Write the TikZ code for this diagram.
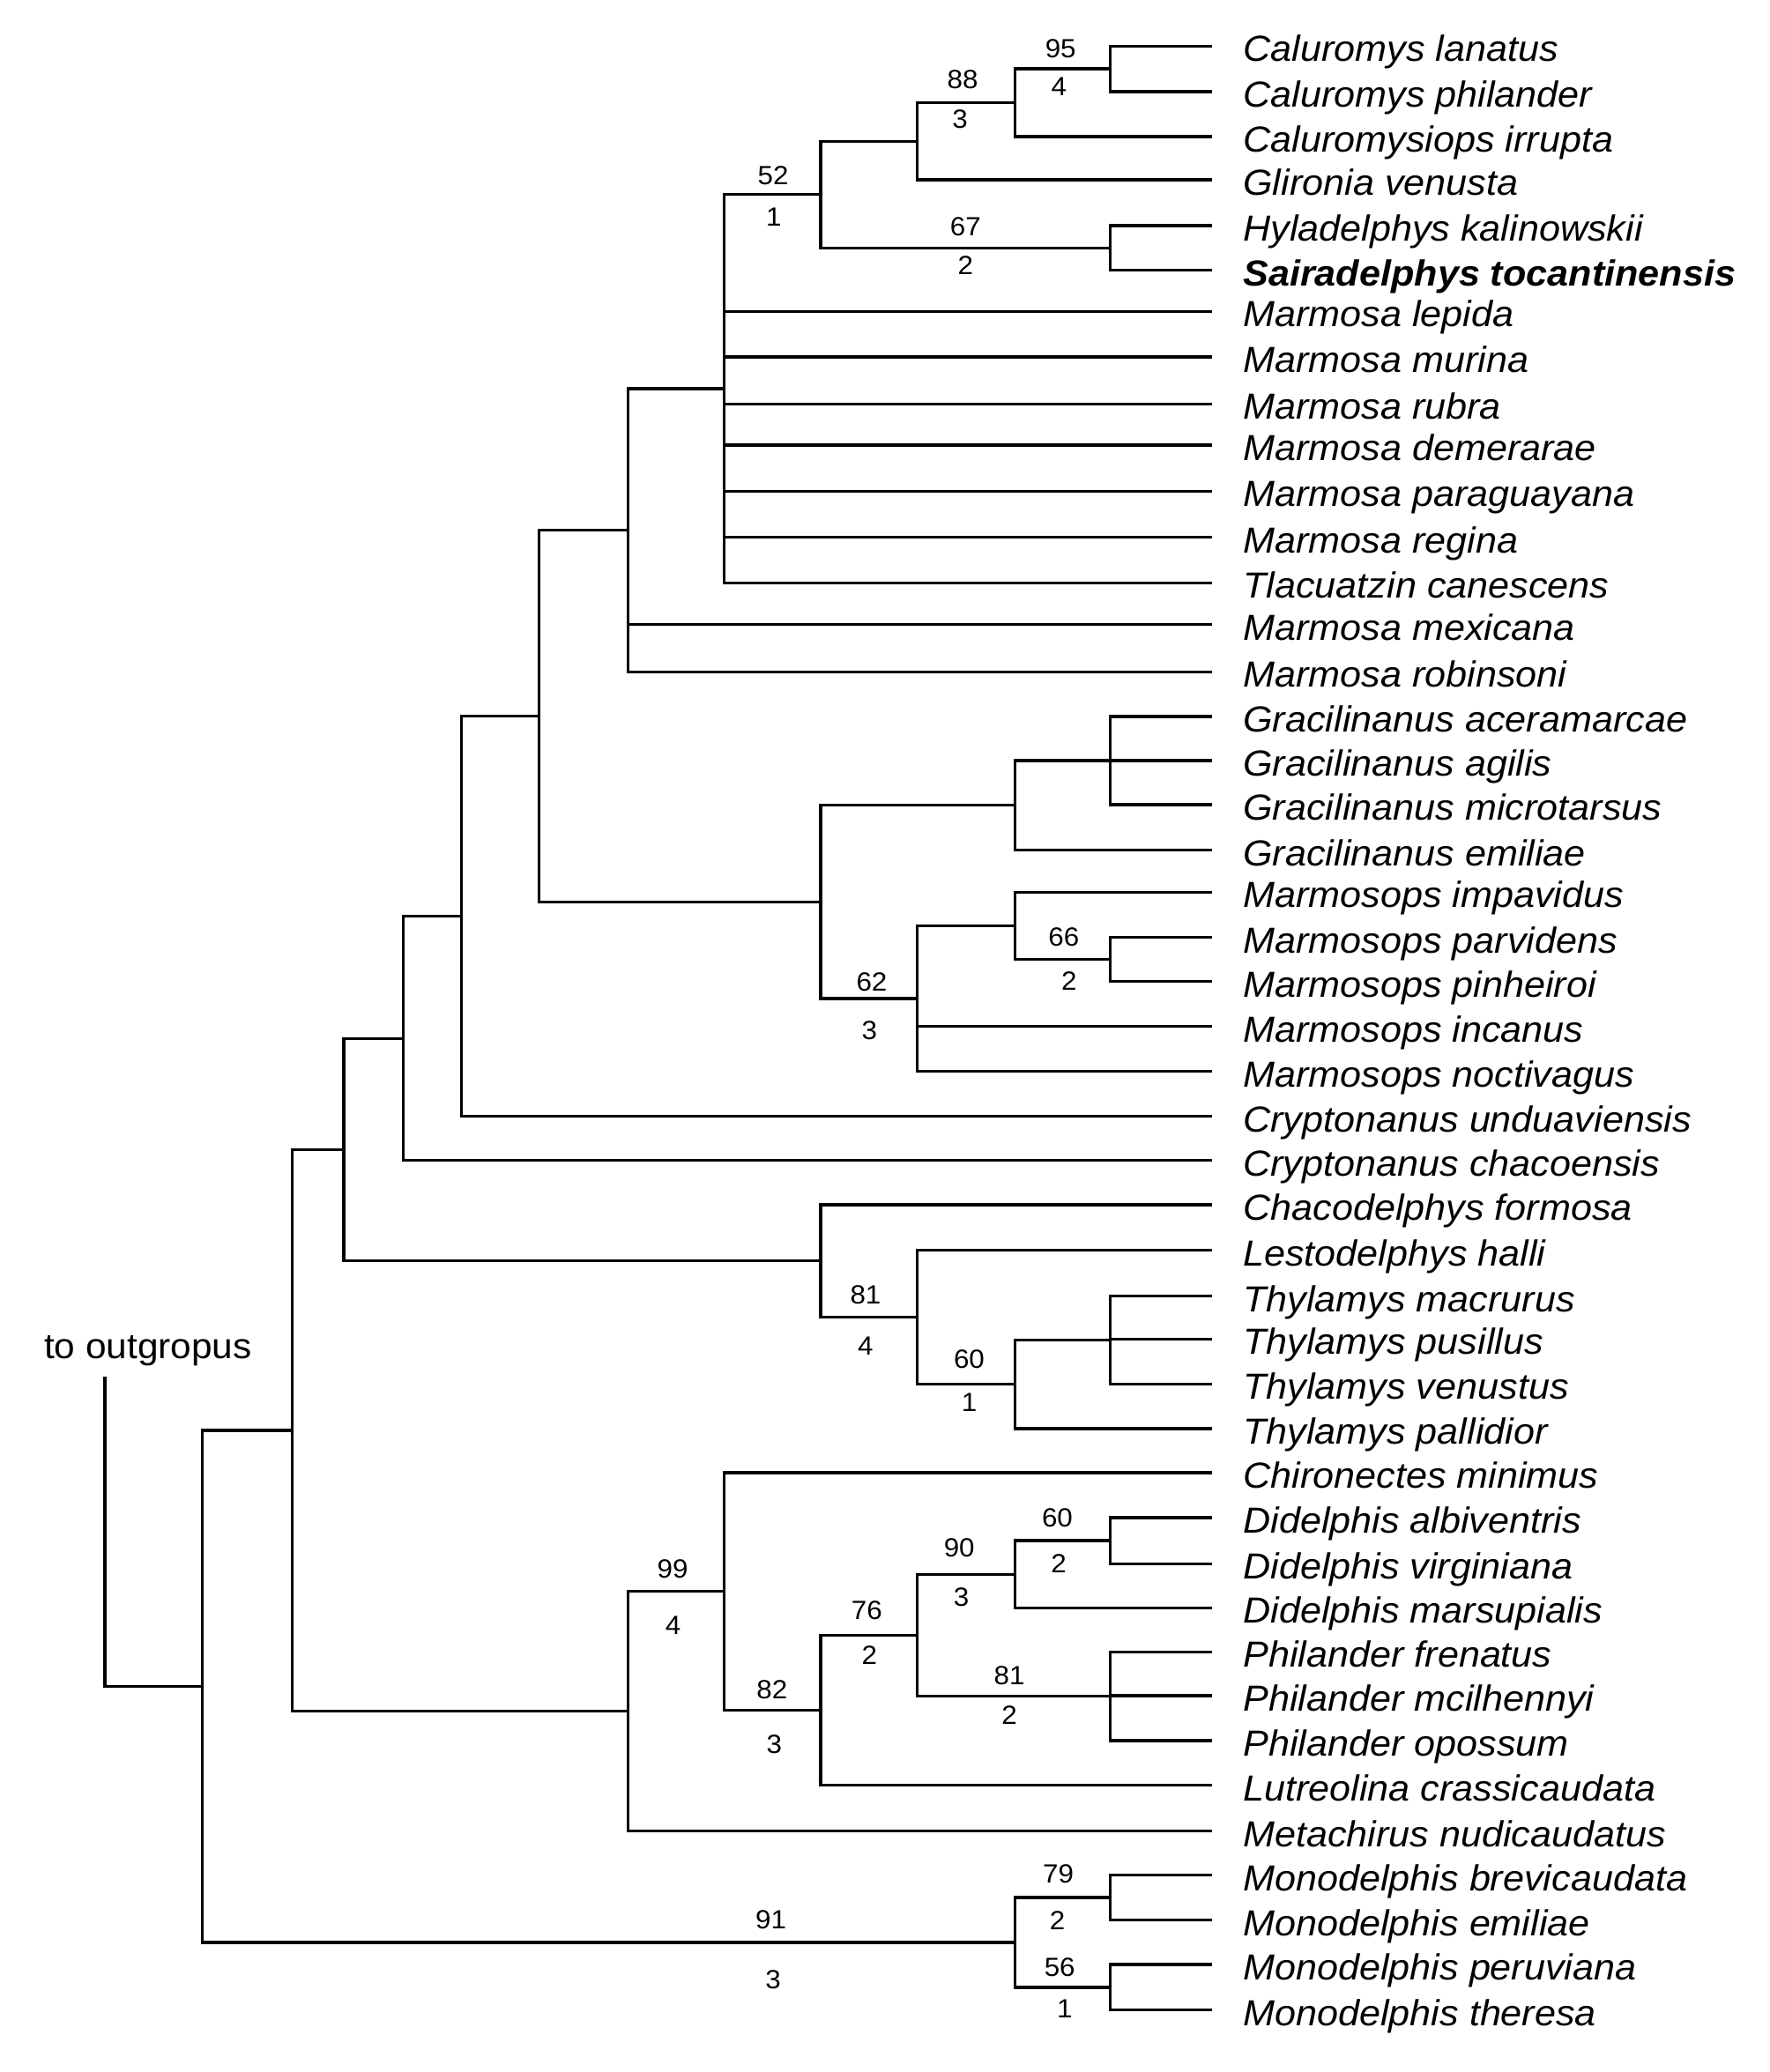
\documentclass[tikz,border=0pt]{standalone}
\usepackage{fontspec}
\setmainfont{Liberation Sans}[FakeStretch=1.05]

\begin{document}
\begin{tikzpicture}[x=0.015cm, y=-0.015cm, line width=0.95pt,
  taxon/.style={anchor=west, inner xsep=0.35cm, inner ysep=0pt, outer sep=0pt,
    text height=10pt, text depth=0pt, font=\fontsize{11.7}{14}\selectfont\itshape},
  supp/.style={inner sep=0pt, font=\fontsize{8.5}{10}\selectfont}]
  \useasboundingbox (0,0) rectangle (1339,1568);
  \foreach \nm/\y/\txt in {clan/34.9/Caluromys lanatus, cphi/69.3/Caluromys philander,
    cirr/103.3/Caluromysiops irrupta, gven/136.0/Glironia venusta,
    hkal/170.7/Hyladelphys kalinowskii, stoc/204.4/{\bfseries Sairadelphys tocantinensis},
    mlep/235.6/Marmosa lepida, mmur/270.0/Marmosa murina, mrub/305.6/Marmosa rubra,
    mdem/336.7/Marmosa demerarae, mpar/371.6/Marmosa paraguayana,
    mreg/406.7/Marmosa regina, tcan/441.1/Tlacuatzin canescens,
    mmex/472.7/Marmosa mexicana, mrob/508.4/Marmosa robinsoni,
    gace/542.2/Gracilinanus aceramarcae, gagi/575.6/Gracilinanus agilis,
    gmic/608.9/Gracilinanus microtarsus, gemi/643.3/Gracilinanus emiliae,
    mimp/675.1/Marmosops impavidus, mpav/709.3/Marmosops parvidens,
    mpin/742.7/Marmosops pinheiroi, minc/776.7/Marmosops incanus,
    mnoc/810.7/Marmosops noctivagus, cund/844.9/Cryptonanus unduaviensis,
    ccha/878.2/Cryptonanus chacoensis, cfor/911.6/Chacodelphys formosa,
    lhal/946.2/Lestodelphys halli, tmac/980.7/Thylamys macrurus,
    tpus/1013.3/Thylamys pusillus, tven/1047.3/Thylamys venustus,
    tpal/1081.1/Thylamys pallidior, cmin/1114.4/Chironectes minimus,
    dalb/1148.4/Didelphis albiventris, dvir/1183.3/Didelphis virginiana,
    dmar/1216.7/Didelphis marsupialis, pfre/1250.0/Philander frenatus,
    pmci/1283.3/Philander mcilhennyi, popo/1317.3/Philander opossum,
    lcra/1351.1/Lutreolina crassicaudata, mnud/1385.6/Metachirus nudicaudatus,
    mbre/1418.9/Monodelphis brevicaudata, memi/1452.9/Monodelphis emiliae,
    mper/1486.7/Monodelphis peruviana, mthe/1521.1/Monodelphis theresa}
    \node[taxon] (\nm) at (917.3,\y) {\txt};

  \node[anchor=base, font=\fontsize{11.5}{14}\selectfont] (og) at (112,1027.8) {to outgropus};
  \coordinate (out) at (79.3,1041.8);
  \foreach \nm/\x/\y in {a/153/1276.2, b/221/1082.5, c/260/870.0, e/305/785.8,
    g/349/693.4, h/408/541.9, i/475/401.3, k/548/294.15, l/621/147.2,
    m/694/106.85, o/768/77.7, p/840/52.1, n/840/187.55, j/621/682.5,
    q/768/609.4, s/840/575.55, r/694/755.6, t/768/700.55, u/840/726.0,
    f/621/954.25, v/694/996.9, w/768/1047.55, x/840/1014,
    d/475/1295, y/548/1204.35, z/621/1294.3, aa/694/1237.5, ab/768/1191.3,
    ad/840/1165.85, ac/840/1283.65, ae/768/1469.9, af/840/1435.9, ag/840/1503.9}
    \coordinate (\nm) at (\x,\y);

  \draw (out) |- (a);
  \foreach \p/\c in {a/b, a/ae, b/c, b/d, c/e, c/f, e/g, e/ccha, g/h, g/cund,
    h/i, h/j, i/k, i/mmex, i/mrob, k/l, k/mlep, k/mmur, k/mrub, k/mdem,
    k/mpar, k/mreg, k/tcan, l/m, l/n, m/o, m/gven, o/p, o/cirr, p/clan,
    p/cphi, n/hkal, n/stoc, j/q, j/r, q/s, q/gemi, s/gace, s/gagi, s/gmic,
    r/t, r/minc, r/mnoc, t/mimp, t/u, u/mpav, u/mpin, f/cfor, f/v, v/lhal,
    v/w, w/x, w/tpal, x/tmac, x/tpus, x/tven, d/y, d/mnud, y/cmin, y/z,
    z/aa, z/lcra, aa/ab, aa/ac, ab/ad, ab/dmar, ad/dalb, ad/dvir, ac/pfre,
    ac/pmci, ac/popo, ae/af, ae/ag, af/mbre, af/memi, ag/mper, ag/mthe}
    \draw (\p) |- (\c);

  \foreach \x/\y/\t [count=\i] in {802.5/36.7/95, 801.2/65.6/4, 728.4/60.0/88,
    726.4/90.0/3, 585/132.9/52, 585.5/164.5/1, 730.5/171.8/67, 730.5/201.1/2,
    804.9/708.9/66, 808.9/742.2/2, 659.6/743.3/62, 657.8/779.6/3,
    654.9/979.6/81, 654.9/1018.9/4, 733.3/1028.9/60, 733.3/1061.1/1,
    509/1187.1/99, 509.2/1229.8/4, 584.1/1278.5/82, 585.8/1320.0/3,
    655.8/1218.7/76, 657.9/1252.6/2, 725.8/1171.6/90, 727.4/1208.8/3,
    800/1148.6/60, 801/1182.9/2, 763.7/1267.8/81, 763.7/1297.7/2,
    800.7/1417.8/79, 800/1453.3/2, 801.8/1488.9/56, 805.6/1520/1,
    583.3/1452.7/91, 584.9/1497.8/3}
    \node[supp] (lb\i) at (\x,\y) {\t};
\end{tikzpicture}
\end{document}
